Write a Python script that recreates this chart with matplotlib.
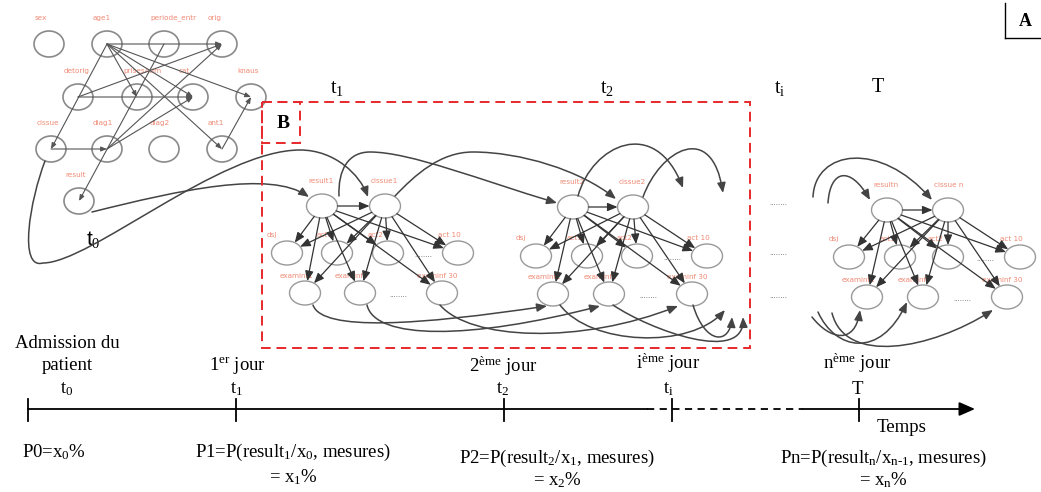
"""
plot.py - Dynamic Bayesian network over patient stay (diagram recreation)

A: static network at admission (t0)
B: time slices t1, t2 ... T with temporal links, plus timeline below
"""
import matplotlib
matplotlib.use("Agg")
import matplotlib.pyplot as plt
from matplotlib.patches import Ellipse, Rectangle, FancyArrowPatch
from matplotlib.path import Path
import numpy as np

# ---------------------------------------------------------------------------
# Diagram data (pixel coordinates of the 1041x492 picture)
# ---------------------------------------------------------------------------
A_NAMES = ["sex", "age1", "periode_entr", "orig",
           "detorig", "prisesAdm", "cat", "knaus",
           "cissue", "diag1", "diag2", "ant1", "result"]
A_X = [49, 107, 164, 222, 78, 137, 193, 251, 51, 107, 164, 222, 79]
A_Y = [44, 44, 44, 44, 97, 97, 97, 97, 149, 149, 149, 149, 201]
A_EDGES = [("age1", "orig"), ("age1", "prisesAdm"), ("age1", "cat"),
           ("age1", "knaus"), ("age1", "ant1"), ("age1", "cissue"),
           ("periode_entr", "result"), ("detorig", "orig"),
           ("detorig", "cat"), ("diag1", "orig"), ("diag1", "cat"),
           ("cissue", "diag1"), ("ant1", "knaus")]

SLICE_TOP_LABELS = [("result1", "cissue1"), ("result2", "cissue2"),
                    ("resultn", "cissue n")]
SLICE_RESULT_X = [322, 573, 887]
SLICE_CISSUE_X = [385, 633, 948]
SLICE_TOP_Y = [206, 207, 210]
MID_LABELS = ["dsj", "act1", "act2", "act 10"]
SLICE_MID_X = [[287, 337, 388, 458], [536, 587, 637, 707], [849, 900, 948, 1020]]
SLICE_MID_Y = [253, 256, 257]
BOT_LABELS = ["examinf1", "examinf2", "examinf 30"]
SLICE_BOT_X = [[305, 360, 442], [553, 609, 692], [867, 923, 1007]]
SLICE_BOT_Y = [293, 294, 297]
MID_DOTS_X = [423, 672, 985]
BOT_DOTS_X = [398, 648, 962]
GAP_DOTS_X = 778
GAP_DOTS_Y = [203, 253, 296]

# temporal links: bezier control polygons (start + 3 points per segment)
CURVES = [
    [(92, 212), (180, 190), (270, 170), (309, 197)],
    [(45, 161), (30, 200), (18, 270), (43, 263), (90, 263), (220, 150),
     (300, 150), (335, 150), (360, 175), (368, 197)],
    [(339, 196), (338, 170), (348, 152), (370, 152), (410, 152), (480, 180),
     (557, 203)],
    [(395, 196), (415, 175), (440, 152), (473, 152), (520, 152), (580, 170),
     (616, 199)],
    [(578, 196), (592, 145), (655, 115), (683, 188)],
    [(643, 197), (660, 150), (712, 120), (723, 193)],
    [(313, 305), (322, 332), (420, 325), (547, 306)],
    [(367, 305), (375, 340), (470, 340), (600, 306)],
    [(440, 305), (470, 340), (580, 345), (678, 306)],
    [(560, 305), (590, 345), (690, 350), (725, 310)],
    [(613, 305), (650, 330), (745, 365), (743, 317)],
    [(693, 305), (705, 345), (730, 345), (732, 317)],
    [(813, 197), (815, 150), (880, 140), (932, 200)],
    [(828, 203), (830, 170), (850, 165), (870, 200)],
    [(812, 317), (830, 340), (855, 345), (860, 310)],
    [(818, 312), (835, 350), (880, 360), (907, 302)],
    [(832, 313), (845, 365), (930, 350), (993, 310)],
]

TOP_T_LABELS = ["t$_1$", "t$_2$", "t$_\\mathrm{i}$", "T"]
TOP_T_X = [337, 607, 780, 878]

TIME_X = [28, 236, 504, 672, 859]
DAY_LABELS = ["1$^\\mathrm{er}$ jour", "2$^\\mathrm{ème}$ jour",
              "i$^\\mathrm{ème}$ jour", "n$^\\mathrm{ème}$ jour"]
DAY_X = [237, 503, 668, 857]
DAY_Y = [366, 366, 363, 363]
T_LABELS = ["t$_0$", "t$_1$", "t$_2$", "t$_\\mathrm{i}$", "T"]
T_LABEL_X = [67, 237, 503, 668, 857]
PROB_LINES = ["P1=P(result$_1$/x$_0$, mesures)",
              "P2=P(result$_2$/x$_1$, mesures)",
              "Pn=P(result$_\\mathrm{n}$/x$_\\mathrm{n\\text{-}1}$, mesures)"]
PROB_RES = ["= x$_1$%", "= x$_2$%", "= x$_\\mathrm{n}$%"]
PROB_X = [293, 557, 883]
PROB_Y = [452, 458, 458]
RES_Y = [477, 480, 480]

# ---------------------------------------------------------------------------
plt.rcParams["font.family"] = ["Liberation Serif", "DejaVu Serif"]
plt.rcParams["mathtext.fontset"] = "custom"
plt.rcParams["mathtext.rm"] = "Liberation Serif"
plt.rcParams["mathtext.it"] = "Liberation Serif:italic"

LABEL_C = "#f08a75"
NODE_EC = "#999999"
LINE_C = "#333333"
RED = "#e8282b"
FS = 13.5

fig = plt.figure(figsize=(10.41, 4.92), dpi=100)
ax = fig.add_axes([0, 0, 1, 1])
ax.set_xlim(0, 1041)
ax.set_ylim(492, 0)
ax.axis("off")

HEAD = "-|>,head_length=0.6,head_width=0.25"


def edge_pt(c, toward, a, b):
    dx, dy = toward[0] - c[0], toward[1] - c[1]
    t = 1.0 / np.hypot(dx / a, dy / b)
    return (c[0] + dx * t, c[1] + dy * t)


def node(x, y, w, h, label, dx, dy, fill=True, ec=NODE_EC, lw=1.0):
    ax.add_patch(Ellipse((x, y), w, h, fc="white" if fill else "none",
                         ec=ec, lw=lw, zorder=2))
    ax.text(x + dx, y + dy, label, fontsize=5.2, color=LABEL_C,
            family="DejaVu Sans", ha="left", va="center", zorder=1)


# ── Network A ──────────────────────────────────────────────────────────────
pos = {n: (x, y) for n, x, y in zip(A_NAMES, A_X, A_Y)}
for n in A_NAMES:
    node(pos[n][0], pos[n][1], 30, 26, n, -14, -26, fill=False,
         ec="#8a8a8a", lw=1.2)
for s, d in A_EDGES:
    ax.add_patch(FancyArrowPatch(pos[s], pos[d],
                                 arrowstyle="-|>,head_length=0.5,head_width=0.2",
                                 mutation_scale=7, lw=0.8, color="#555555",
                                 shrinkA=0, shrinkB=0, zorder=3))
ax.text(93, 240, "t$_0$", fontsize=15, family="Liberation Sans",
        ha="center", va="center")

# ── Time slices ────────────────────────────────────────────────────────────
W, H = 31, 24
for i in range(3):
    ty = SLICE_TOP_Y[i]
    parents = [(SLICE_RESULT_X[i], ty), (SLICE_CISSUE_X[i], ty)]
    children = [(x, SLICE_MID_Y[i]) for x in SLICE_MID_X[i]] + \
               [(x, SLICE_BOT_Y[i]) for x in SLICE_BOT_X[i]]
    for p, lab in zip(parents, SLICE_TOP_LABELS[i]):
        node(p[0], p[1], W, H, lab, -14, -25)
    for x, lab in zip(SLICE_MID_X[i], MID_LABELS):
        node(x, SLICE_MID_Y[i], W, H, lab, -20, -18)
    for x, lab in zip(SLICE_BOT_X[i], BOT_LABELS):
        node(x, SLICE_BOT_Y[i], W, H, lab, -25, -17)
    links = [(parents[0], parents[1])] + \
            [(p, c) for p in parents for c in children]
    for p, c in links:
        a = edge_pt(p, c, W / 2, H / 2)
        b = edge_pt(c, p, W / 2, H / 2)
        ax.add_patch(FancyArrowPatch(a, b, arrowstyle=HEAD, mutation_scale=10,
                                     lw=0.9, color=LINE_C, shrinkA=0,
                                     shrinkB=0, zorder=3))
    ax.text(MID_DOTS_X[i], SLICE_MID_Y[i] + 2, "........", fontsize=5,
            color="#666666", ha="center", va="center", family="DejaVu Sans")
    ax.text(BOT_DOTS_X[i], SLICE_BOT_Y[i] + 2, "........", fontsize=5,
            color="#666666", ha="center", va="center", family="DejaVu Sans")

for y in GAP_DOTS_Y:
    ax.text(GAP_DOTS_X, y, "........", fontsize=5, color="#666666",
            ha="center", va="center", family="DejaVu Sans")

# ── Temporal links ─────────────────────────────────────────────────────────
for pts in CURVES:
    codes = [Path.MOVETO] + [Path.CURVE4] * (len(pts) - 1)
    ax.add_patch(FancyArrowPatch(path=Path(pts, codes), arrowstyle=HEAD,
                                 mutation_scale=10, lw=1.1, color="#444444",
                                 zorder=4))

# ── Boxes ──────────────────────────────────────────────────────────────────
ax.add_patch(Rectangle((262, 102), 488, 246, fill=False, ec=RED, lw=1.4,
                       ls=(0, (5, 3)), zorder=5))
ax.add_patch(Rectangle((262, 102), 38, 41, fill=False, ec=RED, lw=1.4,
                       ls=(0, (5, 3)), zorder=5))
ax.text(283, 124, "B", fontsize=14, weight="bold", ha="center", va="center")
ax.plot([1005, 1005], [3, 38], color="black", lw=1.0)
ax.plot([1005, 1041], [38, 38], color="black", lw=1.0)
ax.text(1025, 22, "A", fontsize=13, weight="bold", ha="center", va="center")

for lab, x in zip(TOP_T_LABELS, TOP_T_X):
    ax.text(x, 88, lab, fontsize=14.5, ha="center", va="center")

# ── Timeline ───────────────────────────────────────────────────────────────
AXIS_Y = 409
ax.plot([TIME_X[0], 647], [AXIS_Y, AXIS_Y], color="black", lw=1.3)
ax.plot([647, 803], [AXIS_Y, AXIS_Y], color="black", lw=1.3, ls=(0, (4, 3)))
ax.add_patch(FancyArrowPatch((803, AXIS_Y), (975, AXIS_Y),
                             arrowstyle="-|>,head_length=0.8,head_width=0.35",
                             mutation_scale=12, lw=1.3, color="black",
                             shrinkA=0, shrinkB=0))
for x in TIME_X:
    ax.plot([x, x], [399, 421], color="black", lw=1.3)

ax.text(67, 344, "Admission du", fontsize=FS, ha="center", va="center")
ax.text(67, 366, "patient", fontsize=FS, ha="center", va="center")
for lab, x, y in zip(DAY_LABELS, DAY_X, DAY_Y):
    ax.text(x, y, lab, fontsize=FS, ha="center", va="center")
for lab, x in zip(T_LABELS, T_LABEL_X):
    ax.text(x, 389, lab, fontsize=FS, ha="center", va="center")
ax.text(902, 428, "Temps", fontsize=FS, ha="center", va="center")

ax.text(22, 452, "P0=x$_0$%", fontsize=FS, ha="left", va="center")
for p, r, x, y1, y2 in zip(PROB_LINES, PROB_RES, PROB_X, PROB_Y, RES_Y):
    ax.text(x, y1, p, fontsize=FS, ha="center", va="center")
    ax.text(x, y2, r, fontsize=FS, ha="center", va="center")

fig.savefig("out.png", dpi=100)
